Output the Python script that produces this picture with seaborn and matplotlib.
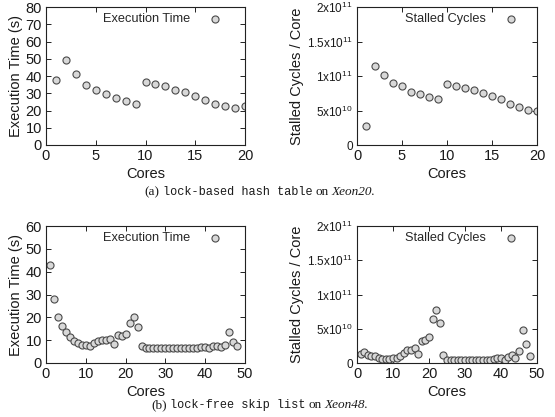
import matplotlib
matplotlib.use("Agg")
import matplotlib.pyplot as plt
import numpy as np
import pandas as pd
import seaborn as sns

# ---- data ----
cores_a = list(range(1, 21))
exec_a = [37.5, 49.5, 41, 34.5, 32, 29.5, 27.5, 25.5, 24, 36.5,
          35.5, 34, 32, 30.5, 28.5, 26, 24, 22.5, 21.5, 22.5]
stall_a = [2.7, 11.5, 10.1, 9.0, 8.6, 7.7, 7.4, 7.0, 6.7, 8.8,
           8.5, 8.2, 7.9, 7.5, 7.1, 6.6, 6.0, 5.5, 5.1, 5.0]  # x1e10

cores_b = list(range(1, 49))
exec_b = [42.8, 28.1, 20.1, 16.4, 13.5, 11.4, 9.5, 8.7, 8.0, 7.7,
          7.3, 8.7, 9.8, 10.0, 10.0, 10.5, 8.4, 12.1, 11.9, 12.7,
          17.6, 20.1, 15.7, 7.3, 6.5, 6.5, 6.5, 6.5, 6.5, 6.5,
          6.6, 6.5, 6.5, 6.5, 6.5, 6.5, 6.6, 6.7, 6.8, 6.8,
          6.6, 7.4, 7.5, 7.0, 8.0, 13.7, 9.2, 7.3]
stall_b = [1.3, 1.65, 1.1, 1.0, 1.0, 0.8, 0.65, 0.65, 0.6, 0.8,
           0.7, 1.0, 1.4, 1.85, 1.85, 2.15, 1.35, 3.2, 3.3, 3.85,
           6.4, 7.7, 5.85, 1.1, 0.45, 0.45, 0.45, 0.45, 0.45, 0.45,
           0.45, 0.45, 0.45, 0.45, 0.45, 0.45, 0.5, 0.6, 0.8, 0.7,
           0.45, 0.9, 1.1, 0.7, 1.7, 4.8, 2.8, 1.05]  # x1e10

stall_ticks = [0, 5e10, 1e11, 1.5e11, 2e11]
stall_labels = ["0", r"$5\mathrm{x}10^{10}$", r"$1\mathrm{x}10^{11}$",
                r"$1.5\mathrm{x}10^{11}$", r"$2\mathrm{x}10^{11}$"]

sns.set_style("ticks")
plt.rcParams['font.family'] = ['Liberation Sans', 'DejaVu Sans']
plt.rcParams['mathtext.fontset'] = 'custom'
plt.rcParams['mathtext.rm'] = 'Liberation Sans'
plt.rcParams['mathtext.it'] = 'Liberation Sans:italic'

fig = plt.figure(figsize=(5.55, 4.17), dpi=100)
fig.patch.set_facecolor('white')

W, H = 555, 417
def rect(l, r, t, b):
    return [l / W, 1 - b / H, (r - l) / W, (b - t) / H]

ax1 = fig.add_axes(rect(46, 245, 7, 145))
ax2 = fig.add_axes(rect(357, 537, 7, 145))
ax3 = fig.add_axes(rect(46, 245, 226, 363))
ax4 = fig.add_axes(rect(357, 537, 226, 363))

mk = dict(marker='o', s=26, facecolor='#d8d8d8', edgecolor='#4a4a4a', linewidth=0.8)

def panel(ax, x, y, label, xlim, xticks, ylim, yticks, ylabel, ylabels=None, ytfs=10.5,
          anchor=(0.94, 1.0)):
    df = pd.DataFrame({'Cores': x, label: y})
    sns.scatterplot(data=df, x='Cores', y=label, ax=ax, label=label, **mk)
    ax.set_xlim(*xlim)
    ax.set_ylim(*ylim)
    ax.set_xticks(xticks)
    ax.set_yticks(yticks)
    if ylabels is not None:
        ax.set_yticklabels(ylabels)
    ax.tick_params(direction='in', top=True, right=True, length=3.5, width=0.7,
                   colors='#222222', labelcolor='#1a1a1a')
    ax.tick_params(axis='x', labelsize=10.5, pad=3)
    ax.tick_params(axis='y', labelsize=ytfs, pad=3)
    for s in ax.spines.values():
        s.set_visible(True)
        s.set_linewidth(0.8)
        s.set_color('#222222')
    ax.set_xlabel('Cores', fontsize=10.5, labelpad=3, color='#1a1a1a')
    ax.set_ylabel(ylabel, fontsize=10.5, labelpad=2, color='#1a1a1a')
    ax.legend(loc='upper right', frameon=False, markerfirst=False, fontsize=9.2,
              handletextpad=0.9, borderaxespad=0.1, bbox_to_anchor=anchor)

panel(ax1, cores_a, exec_a, 'Execution Time', (0, 20), [0, 5, 10, 15, 20],
      (0, 80), list(range(0, 81, 10)), 'Execution Time (s)', anchor=(0.945, 1.0))
panel(ax2, cores_a, [v * 1e10 for v in stall_a], 'Stalled Cycles', (0, 20), [0, 5, 10, 15, 20],
      (0, 2e11), stall_ticks, 'Stalled Cycles / Core', stall_labels, 8.5, anchor=(0.96, 1.0))
panel(ax3, cores_b, exec_b, 'Execution Time', (0, 50), [0, 10, 20, 30, 40, 50],
      (0, 60), list(range(0, 61, 10)), 'Execution Time (s)', anchor=(0.945, 1.0))
panel(ax4, cores_b, [v * 1e10 for v in stall_b], 'Stalled Cycles', (0, 50), [0, 10, 20, 30, 40, 50],
      (0, 2e11), stall_ticks, 'Stalled Cycles / Core', stall_labels, 8.5, anchor=(0.96, 1.0))

# ---- captions with mixed fonts ----
def caption(pieces, cx, cy):
    renderer = fig.canvas.get_renderer()
    texts = []
    widths = []
    for s, kw in pieces:
        t = fig.text(0, 1 - cy / H, s, va='center', ha='left', color='#1a1a1a', **kw)
        bb = t.get_window_extent(renderer=renderer)
        texts.append(t)
        widths.append(bb.width)
    gap = 3.0
    total = sum(widths) + gap * (len(widths) - 1)
    x = cx - total / 2
    for t, w in zip(texts, widths):
        t.set_x(x / W)
        x += w + gap

serif = dict(family=['Liberation Serif', 'DejaVu Serif'], fontsize=9.5)
mono = dict(family=['Liberation Mono', 'DejaVu Sans Mono'], fontsize=8.6)
ital = dict(family=['Liberation Serif', 'DejaVu Serif'], style='italic', fontsize=9.5)

fig.canvas.draw()
caption([("(a)", serif), ("lock-based hash table", mono), ("on", serif), ("Xeon20.", ital)], 260, 192)
caption([("(b)", serif), ("lock-free skip list", mono), ("on", serif), ("Xeon48.", ital)], 260, 405)

fig.savefig('out.png', dpi=100, facecolor='white')
